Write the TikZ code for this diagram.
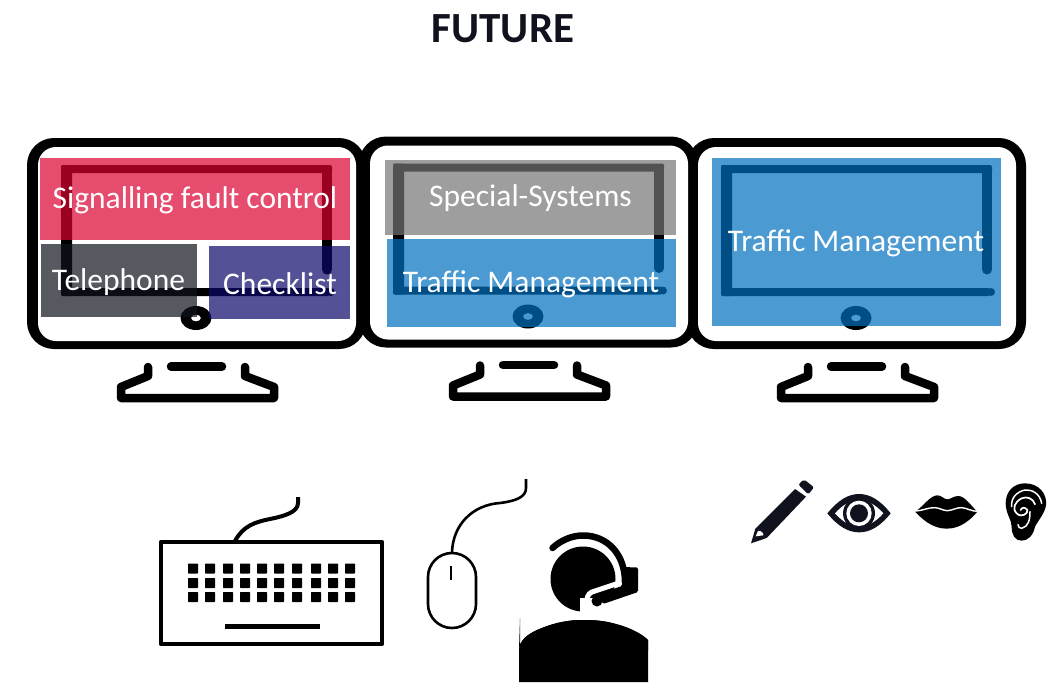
\documentclass[tikz,border=0pt]{standalone}
\usepackage{fontspec}
\setmainfont{Carlito}
\definecolor{inkdark}{HTML}{10131E}
\definecolor{redpane}{RGB}{220,0,48}
\definecolor{darkpane}{RGB}{16,19,30}
\definecolor{violetpane}{RGB}{12,8,108}
\definecolor{graypane}{RGB}{117,118,117}
\definecolor{bluepane}{RGB}{0,112,192}
\tikzset{
  pane/.style={opacity=.7},
  panelabel/.style={text=white,font=\fontsize{31.5}{34}\selectfont,inner sep=0pt,anchor=center},
  standline/.style={draw=black,line width=8.5pt,line cap=round,line join=round},
  monitorbody/.pic={
    \fill[black,rounded corners=27pt] (27,138) rectangle (366,349);
  },
  monitorinner/.pic={
    \fill[white,rounded corners=18pt] (38,147) rectangle (356,341);
  },
  monitordetail/.pic={
    \fill[black,rounded corners=2pt] (61,165) rectangle (332,173);
    \fill[black,rounded corners=2pt] (61,165) rectangle (72,296);
    \fill[black] (322,167) rectangle (332,270);
    \fill[black] (327,269.5) circle (5);
    \fill[black,rounded corners=2pt] (61,288) rectangle (330,296);
    \fill[black] (331,292) circle (4);
    \fill[black,even odd rule] (196,318) ellipse (15.5 and 12) (196,318) ellipse (5 and 3.4);
    \draw[standline] (171,366.5) -- (222,366.5);
    \draw[standline] (148,367) -- (148,376) -- (121,387) -- (121,398) -- (274,398) -- (274,387) -- (245,376) -- (245,367);
  }
}
\begin{document}
\begin{tikzpicture}[x=1pt,y=-1pt]
\useasboundingbox (0,0) rectangle (1051,682);
\fill[white] (0,0) rectangle (1051,682);
\node[text=inkdark,font=\bfseries\fontsize{43}{46}\selectfont,inner sep=0pt] (title) at (503,29) {FUTURE};

% monitors
\pic at (0,0) {monitorbody};
\pic at (332,-1.5) {monitorbody};
\pic at (660,0) {monitorbody};
\pic at (0,0) {monitorinner};
\pic at (332,-1.5) {monitorinner};
\pic at (660,0) {monitorinner};
\pic at (0,0) {monitordetail};
\pic at (332,-1.5) {monitordetail};
\pic at (660,0) {monitordetail};

% panes
\fill[pane,redpane] (40,158) rectangle (350,240);
\fill[pane,darkpane] (41,244) rectangle (197,317);
\fill[pane,violetpane] (209,246) rectangle (350,319);
\fill[pane,graypane] (385,160) rectangle (676,235);
\fill[pane,bluepane] (387,239) rectangle (676,327);
\fill[pane,bluepane] (712,158) rectangle (1001,326);

\node[panelabel] (signal) at (195,200) {Signalling fault control};
\node[panelabel] (phone) at (118.5,282) {Telephone};
\node[panelabel] (check) at (280,284) {Checklist};
\node[panelabel] (special) at (530.5,198) {Special-Systems};
\node[panelabel] (traffica) at (531,284) {Traffic Management};
\node[panelabel] (trafficb) at (856,243) {Traffic Management};

% keyboard
\draw[black,line width=4.5pt,line join=round] (161,542) rectangle (382,644);
\foreach \kx in {193,210,228,245,262,279,297,316,333,350}
  \foreach \ky in {568.5,583,597}
    \fill[black,rounded corners=.6pt] (\kx-5,\ky-5) rectangle (\kx+5,\ky+5);
\fill[black] (225,623.5) rectangle (320,628.5);
\draw[black,line width=4pt] (235,541) .. controls (243,526) and (255,522) .. (270,519)
  .. controls (285,516) and (298,512) .. (298,503) -- (298,497);

% mouse
\draw[black,line width=2.6pt,rounded corners=24pt] (428,553) rectangle (476,628);
\draw[black,line width=2.6pt] (451,566) -- (451,580);
\draw[black,line width=2.6pt] (452,552) .. controls (453,525) and (472,505) .. (500,503)
  .. controls (516,501) and (526,497) .. (526,488) -- (526,479);

% person
\fill[black] (583,579) circle (32.5);
\fill[black] (519,682) -- (519,650) .. controls (519,640) and (528,636) .. (545,628)
  .. controls (560,622) and (572,620) .. (583,620)
  .. controls (595,620) and (610,622) .. (625,629)
  .. controls (640,636) and (648,641) .. (648,650) -- (648,682) -- cycle;
\fill[white] (580,598) rectangle (620,625);
\fill[black] (520,618) -- (520,650) -- (648,650) -- (648,640) .. controls (640,632) and (625,626) .. (612,623)
  .. controls (600,620) and (590,620) .. (583,620) .. controls (565,620) and (550,624) .. (535,631) .. controls (527,635) and (520,640) .. (519,650) -- cycle;
\draw[white,line width=5pt,line join=round] (587,614) -- (587,600) .. controls (587,595) and (590,592) .. (595,591) -- (622,582);
\fill[white] (590,600) -- (640,583) -- (640,620) -- (590,612) -- cycle;
\fill[black] (520,650) -- (648,650) -- (648,640) .. controls (640,632) and (625,626) .. (612,623)
  .. controls (600,620) and (590,620) .. (583,620) .. controls (565,620) and (550,624) .. (535,631) .. controls (527,635) and (520,640) .. (519,650) -- cycle;
\draw[black,line width=6.5pt,line cap=round] (552.5,548) .. controls (560,541) and (571,535.5) .. (583,535.5)
  .. controls (608,535.5) and (625,555) .. (625,582);
\fill[black,rounded corners=1.5pt] (622,567) -- (638,567.5) -- (638,592) -- (603,604) -- (598,594) -- (622,586) -- cycle;
\fill[black] (597,601) circle (5.5);

% pencil, eye, lips, ear
\begin{scope}[shift={(740,470)},x=1/3*1pt,y=-1/3*1pt]
  \fill[inkdark] (33,220) -- (46,176) -- (165,57) -- (198,80) -- (80,204) -- cycle;
  \fill[white] (47,199) -- (54,183) .. controls (62,180) and (72,190) .. (70,196) -- cycle;
  \fill[inkdark,rounded corners=2pt] (175,44) -- (192,28) -- (222,52) -- (205,73) -- cycle;
  \fill[inkdark] (262,130) .. controls (295,90) and (325,72) .. (357,72)
    .. controls (390,72) and (420,90) .. (452,130)
    .. controls (420,170) and (390,187) .. (357,187)
    .. controls (325,187) and (295,170) .. (262,130) -- cycle;
  \fill[white] (285,130) .. controls (310,102) and (335,90) .. (357,90)
    .. controls (380,90) and (405,102) .. (430,130)
    .. controls (405,158) and (380,170) .. (357,170)
    .. controls (335,170) and (310,158) .. (285,130) -- cycle;
  \fill[inkdark] (357,130) circle (48);
  \fill[white] (357,130) circle (38);
  \fill[inkdark] (357,130) circle (27);
  \fill[black] (525,125) .. controls (550,110) and (570,76) .. (592,76)
    .. controls (605,76) and (612,88) .. (622,88)
    .. controls (632,88) and (640,78) .. (655,78)
    .. controls (675,78) and (695,110) .. (712,125)
    .. controls (695,145) and (665,176) .. (620,176)
    .. controls (575,176) and (545,145) .. (525,125) -- cycle;
  \draw[white,line width=1.4pt] (525,123) .. controls (550,122) and (565,112) .. (585,113)
    .. controls (600,114) and (610,122) .. (622,122)
    .. controls (635,122) and (650,112) .. (665,113)
    .. controls (680,114) and (695,124) .. (712,124);
  \fill[black] (855,40) .. controls (895,40) and (922,70) .. (918,105)
    .. controls (915,130) and (895,150) .. (885,170)
    .. controls (880,195) and (865,212) .. (845,212)
    .. controls (825,212) and (815,195) .. (815,170)
    .. controls (815,150) and (797,130) .. (797,100)
    .. controls (797,65) and (820,40) .. (855,40) -- cycle;
  \draw[white,line width=1.5pt,line cap=round] (905,100) .. controls (900,70) and (875,58) .. (855,60)
    .. controls (830,65) and (812,85) .. (815,110);
  \draw[white,line width=1.7pt,line cap=round] (885,103) .. controls (880,85) and (860,78) .. (845,85)
    .. controls (825,95) and (815,115) .. (830,130)
    .. controls (845,145) and (865,130) .. (862,120) .. controls (855,110) and (845,112) .. (842,120);
  \draw[white,line width=1.5pt,line cap=round] (870,125) .. controls (870,150) and (865,170) .. (845,175) .. controls (838,176) and (835,170) .. (834,164);
\end{scope}
\end{tikzpicture}
\end{document}
